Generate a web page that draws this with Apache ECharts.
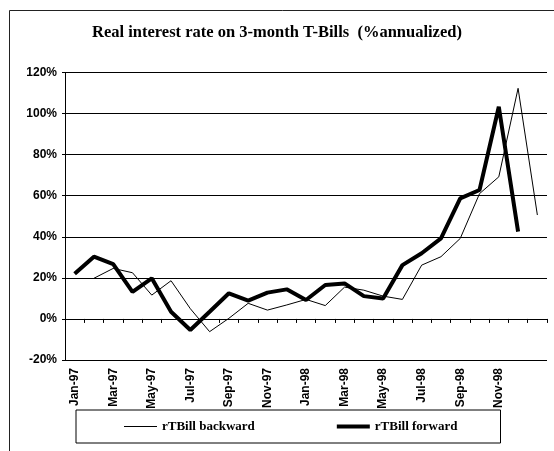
<!DOCTYPE html>
<html>
<head>
<meta charset="utf-8">
<script src="https://cdn.jsdelivr.net/npm/echarts@6/dist/echarts.min.js"></script>
<style>
  html, body { margin: 0; padding: 0; background: #fff; }
  #chart { width: 554px; height: 451px; }
</style>
</head>
<body>
<div id="chart"></div>
<script>
// Monthly categories, Jan-97 through Jan-99
const months = [
  'Jan-97','Feb-97','Mar-97','Apr-97','May-97','Jun-97','Jul-97','Aug-97','Sep-97','Oct-97','Nov-97','Dec-97',
  'Jan-98','Feb-98','Mar-98','Apr-98','May-98','Jun-98','Jul-98','Aug-98','Sep-98','Oct-98','Nov-98','Dec-98',
  'Jan-99'
];

// Real 3-month T-Bill rate, % annualized
const rTBillBackward = [
  null, 19.8, 24.6, 22.5, 11.6, 18.6, 5.0, -6.2, 0.3, 7.6, 4.3, 6.8,
  9.5, 6.5, 15.5, 14.0, 11.1, 9.5, 26.2, 30.3, 39.2, 61.0, 69.2, 112.3,
  50.6
];
const rTBillForward = [
  22.0, 30.3, 26.7, 13.2, 19.8, 3.5, -5.4, 3.5, 12.5, 8.9, 12.8, 14.4,
  9.2, 16.5, 17.3, 11.1, 10.0, 26.2, 32.0, 39.2, 58.7, 62.8, 103.3, 42.5,
  null
];

const yTicks = { min: -20, max: 120, step: 20 };

const chart = echarts.init(document.getElementById('chart'), null, { renderer: 'canvas' });

const axisFont = { fontFamily: 'Liberation Sans, Arial, sans-serif', fontSize: 12, fontWeight: 'bold', color: '#000' };

chart.setOption({
  animation: false,
  backgroundColor: '#fff',
  graphic: [{
    type: 'rect',
    shape: { x: 9.5, y: 10.5, width: 600, height: 500 },
    style: { fill: 'none', stroke: '#222', lineWidth: 1 },
    silent: true
  }],
  title: {
    text: 'Real interest rate on 3-month T-Bills  (%annualized)',
    left: 'center',
    top: 19,
    textStyle: { fontFamily: 'Liberation Serif, Times New Roman, serif', fontSize: 16.5, fontWeight: 'bold', color: '#000' }
  },
  grid: { left: 65, right: 7, top: 72.5, bottom: 91, containLabel: false },
  legend: {
    left: 76,
    top: 410,
    padding: [10, 43, 10, 48],
    borderColor: '#000',
    borderWidth: 1,
    itemWidth: 33,
    itemHeight: 10,
    itemGap: 82,
    symbolKeepAspect: true,
    textStyle: { fontFamily: 'Liberation Serif, Times New Roman, serif', fontSize: 13, fontWeight: 'bold', color: '#000' },
    data: [
      { name: 'rTBill backward', icon: 'path://M0,0 L33,0 L33,1 L0,1 Z' },
      { name: 'rTBill forward', icon: 'path://M0,0 L33,0 L33,4 L0,4 Z' }
    ]
  },
  xAxis: {
    type: 'category',
    data: months,
    boundaryGap: true,
    axisLine: { onZero: true, lineStyle: { color: '#000', width: 1 } },
    axisTick: { show: true, interval: 0, length: 4, lineStyle: { color: '#000' } },
    axisLabel: Object.assign({
      rotate: 90,
      margin: 8,
      interval: (idx) => idx % 2 === 0 && idx < months.length - 1
    }, axisFont),
    splitLine: { show: false }
  },
  yAxis: {
    type: 'value',
    min: yTicks.min,
    max: yTicks.max,
    interval: yTicks.step,
    axisLine: { show: true, lineStyle: { color: '#000', width: 1 } },
    axisTick: { show: true, length: 3, lineStyle: { color: '#000' } },
    axisLabel: Object.assign({ margin: 8, formatter: (v) => v + '%' }, axisFont),
    splitLine: { show: true, lineStyle: { color: '#000', width: 1 } }
  },
  series: [
    {
      name: 'rTBill backward',
      type: 'line',
      data: rTBillBackward,
      symbol: 'none',
      connectNulls: false,
      lineStyle: { color: '#000', width: 1 },
      itemStyle: { color: '#000' }
    },
    {
      name: 'rTBill forward',
      type: 'line',
      data: rTBillForward,
      symbol: 'none',
      connectNulls: false,
      lineStyle: { color: '#000', width: 4 },
      itemStyle: { color: '#000' }
    }
  ]
});
</script>
</body>
</html>
